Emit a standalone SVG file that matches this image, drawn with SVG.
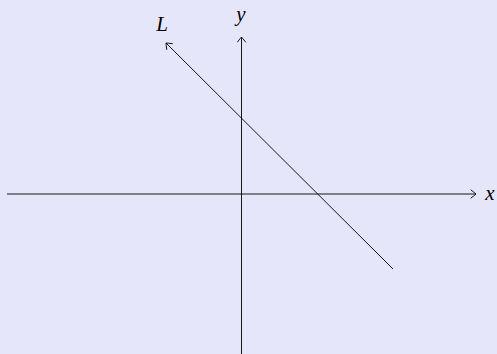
<svg xmlns="http://www.w3.org/2000/svg" width="497" height="354" viewBox="0 0 497 354">
<style>
.ax{stroke:#000;stroke-width:0.9;fill:none}
.lbl{font-family:"Liberation Serif","DejaVu Serif",serif;font-style:italic;font-size:21px;fill:#000;text-anchor:middle}
</style>
<defs>
<marker id="to" viewBox="-6 -5 8 10" refX="0" refY="0" markerWidth="8" markerHeight="10" markerUnits="userSpaceOnUse" orient="auto">
<path d="M-5,-4 Q-1,-1 0,0 Q-1,1 -5,4" fill="none" stroke="#000" stroke-width="0.9" stroke-linecap="round"/>
</marker>
</defs>
<rect width="497" height="354" fill="#e6e6fa"/>
<g id="connectors">
<line class="ax" x1="7" y1="194" x2="476" y2="194" marker-end="url(#to)"/>
<line class="ax" x1="241.5" y1="354" x2="241.5" y2="37" marker-end="url(#to)"/>
<line class="ax" x1="393" y1="269" x2="166" y2="43" marker-end="url(#to)"/>
</g>
<g id="label-x"><text class="lbl" x="490" y="200">x</text></g>
<g id="label-y"><text class="lbl" x="241" y="21">y</text></g>
<g id="label-L"><text class="lbl" x="162" y="31">L</text></g>
</svg>
